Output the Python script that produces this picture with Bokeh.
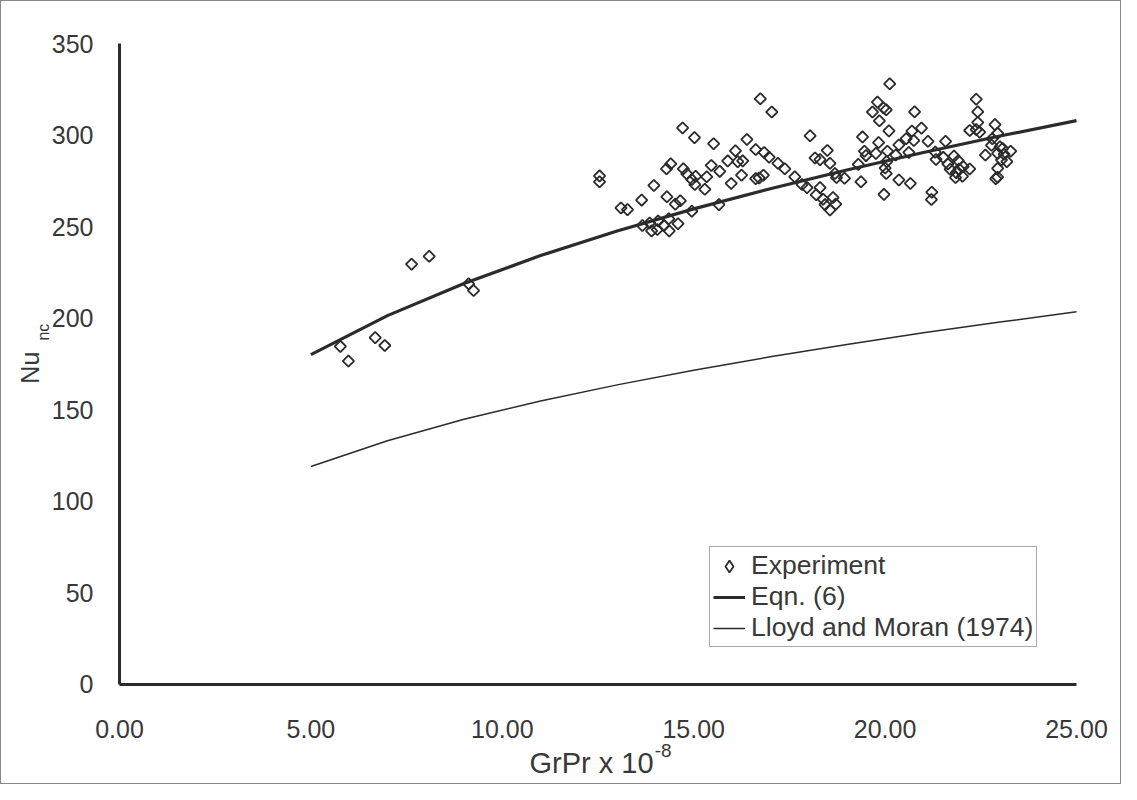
import numpy as np
from bokeh.plotting import figure
from bokeh.models import (FixedTicker, NumeralTickFormatter, Label, Legend, LegendItem,
                          Range1d)
from bokeh.embed import file_html
from bokeh.resources import INLINE

# ---------------- data ----------------
exp_x = [5.77, 5.98, 6.68, 6.93, 7.63, 8.09, 9.12, 9.25,
         12.54, 12.54, 13.10, 13.27, 13.64, 13.96, 14.29, 14.40, 14.30, 14.52, 14.65,
         13.66, 13.85, 13.90, 14.05, 14.07, 14.22, 14.35, 14.36, 14.59, 14.71, 14.73,
         14.82, 14.95, 14.95,
         15.02, 15.03, 15.05, 15.29, 15.34, 15.46, 15.52, 15.68, 15.66, 15.89, 15.98,
         16.09, 16.15, 16.28, 16.25, 16.39, 16.62, 16.74, 16.84, 16.97, 17.04, 16.62,
         16.71, 16.82, 17.20, 17.38, 17.64, 17.83, 17.96, 18.04,
         18.17, 18.30, 18.49, 18.56, 18.20, 18.30, 18.38, 18.43, 18.56, 18.64, 18.71,
         18.69, 18.73, 18.94, 19.30, 19.37, 19.41, 19.46, 19.50, 19.67, 19.76, 19.80,
         19.83, 19.85, 19.97, 19.96, 20.03, 20.00, 20.04, 20.06, 20.03, 20.10, 20.12,
         20.28, 20.36, 20.36, 20.55, 20.62, 20.66, 20.70, 20.75, 20.77, 20.95, 21.12,
         21.22, 21.21, 21.31, 21.33,
         21.52, 21.58, 21.64, 21.70, 21.80, 21.84, 21.86, 21.91, 21.93, 22.02, 22.04,
         22.21, 22.21, 22.38, 22.38, 22.42, 22.42, 22.47, 22.62, 22.78, 22.80, 22.87,
         22.94, 22.94, 23.00, 23.07, 23.11, 23.28, 23.04, 23.18, 22.94, 22.94, 22.89]
exp_y = [184.6, 176.6, 189.4, 185.1, 229.5, 233.8, 218.8, 215.1,
         277.7, 274.5, 260.2, 259.3, 264.5, 272.5, 281.6, 284.3, 266.3, 262.3, 264.1,
         250.6, 252.0, 247.7, 248.4, 253.1, 250.6, 254.3, 247.7, 251.6, 303.9, 281.6,
         278.8, 275.7, 258.4,
         298.6, 273.0, 277.5, 270.4, 277.2, 283.4, 295.3, 280.2, 262.0, 285.9, 273.6,
         291.4, 285.5, 285.9, 278.1, 297.6, 292.1, 319.8, 290.5, 287.9, 312.6, 276.2,
         276.6, 278.1, 284.6, 281.6, 277.2, 273.0, 271.3, 299.6,
         287.5, 286.6, 291.6, 284.6, 267.4, 271.3, 265.0, 262.0, 259.1, 265.9, 262.3,
         279.0, 276.8, 276.4, 284.0, 274.5, 299.0, 291.2, 288.8, 312.6, 290.0, 318.0,
         295.9, 307.8, 267.6, 314.8, 313.8, 282.0, 285.5, 291.2, 279.0, 302.3, 328.0,
         289.1, 294.6, 275.5, 298.0, 290.5, 273.6, 302.2, 297.0, 312.7, 303.8, 296.6,
         268.8, 264.8, 290.7, 286.7,
         287.8, 296.6, 284.2, 281.3, 288.5, 276.8, 279.5, 286.0, 281.5, 277.5, 282.8,
         281.5, 302.5, 303.0, 319.6, 312.7, 306.9, 301.6, 289.1, 294.4, 298.0, 305.7,
         301.0, 290.0, 293.6, 292.7, 289.5, 291.2, 286.4, 285.5, 281.8, 277.0, 276.2]

curve_x = [5, 7, 9, 11, 13, 15, 17, 19, 21, 23, 25]
eqn6_y = [180.1, 201.4, 219.0, 234.2, 247.6, 259.7, 270.7, 280.9, 290.5, 299.5, 307.9]
lloyd_y = [119.0, 133.1, 144.8, 154.8, 163.6, 171.6, 178.9, 185.7, 192.0, 197.9, 203.5]

x_ticks = [0, 5, 10, 15, 20, 25]
y_ticks = [0, 50, 100, 150, 200, 250, 300, 350]

# ---------------- figure ----------------
FONT = "Liberation Sans"
INK = "#2b2b2b"
TXT = "#383838"

p = figure(width=1121, height=784, output_backend="svg", toolbar_location=None,
           x_range=Range1d(-2.978, 26.097), y_range=Range1d(-55.15, 370.75),
           min_border_left=4, min_border_right=4, min_border_top=4,
           min_border_bottom=0)
p.styles = {"border": "1px solid #888888"}
p.outline_line_color = None
p.background_fill_color = "white"
p.border_fill_color = "white"
p.grid.visible = False

for ax in (p.xaxis[0], p.yaxis[0]):
    ax.axis_line_color = INK
    ax.axis_line_width = 3
    ax.major_tick_line_color = None
    ax.minor_tick_line_color = None
    ax.major_label_text_font = FONT
    ax.major_label_text_font_size = "25px"
    ax.major_label_text_color = TXT
    ax.fixed_location = 0

p.xaxis.ticker = FixedTicker(ticks=x_ticks)
p.xaxis.formatter = NumeralTickFormatter(format="0.00")
p.xaxis.bounds = (0, 25)
p.xaxis.major_label_standoff = 30

p.yaxis.ticker = FixedTicker(ticks=y_ticks)
p.yaxis.bounds = (0, 350)
p.yaxis.major_label_standoff = 20

# axis titles
p.add_layout(Label(x=12.33, y=-42.6, text="GrPr x 10", text_font=FONT,
                   text_font_size="29px", text_color=TXT,
                   text_align="center", text_baseline="middle"))
p.add_layout(Label(x=13.98, y=-36.3, text="-8", text_font=FONT,
                   text_font_size="19px", text_color=TXT,
                   text_align="left", text_baseline="middle"))
p.add_layout(Label(x=-2.34, y=173, text="Nu", angle=np.pi / 2, text_font=FONT,
                   text_font_size="25px", text_color=TXT,
                   text_align="center", text_baseline="middle"))
p.add_layout(Label(x=-1.985, y=192.4, text="nc", angle=np.pi / 2, text_font=FONT,
                   text_font_size="16px", text_color=TXT,
                   text_align="center", text_baseline="middle"))

r_exp = p.scatter(exp_x, exp_y, marker="square", angle=np.pi / 4, size=8,
                  fill_color=None, line_color=INK, line_width=1.8)
r_eqn = p.line(curve_x, eqn6_y, line_color=INK, line_width=3.2)
r_lloyd = p.line(curve_x, lloyd_y, line_color=INK, line_width=1.5)
# legend swatch for the diamonds (hidden renderer, only its key is shown)
r_key = p.scatter(exp_x[:1], exp_y[:1], marker="diamond", size=11, fill_color=None,
                  line_color=INK, line_width=1.8, visible=False)

legend = Legend(items=[LegendItem(label="Experiment", renderers=[r_key]),
                       LegendItem(label="Eqn. (6)", renderers=[r_eqn]),
                       LegendItem(label="Lloyd and Moran (1974)", renderers=[r_lloyd])],
                location=(704, 138))
legend.label_text_font = FONT
legend.label_text_font_size = "26.6px"
legend.label_text_color = TXT
legend.glyph_width = 32
legend.glyph_height = 30
legend.label_height = 30
legend.label_standoff = 6
legend.spacing = 0
legend.padding = 3
legend.margin = 0
legend.border_line_color = "#555555"
legend.border_line_width = 1
legend.background_fill_color = "white"
legend.background_fill_alpha = 1
legend.inactive_fill_alpha = 0
legend.click_policy = "none"
p.add_layout(legend)

open("out.html", "w").write(file_html(p, INLINE))
